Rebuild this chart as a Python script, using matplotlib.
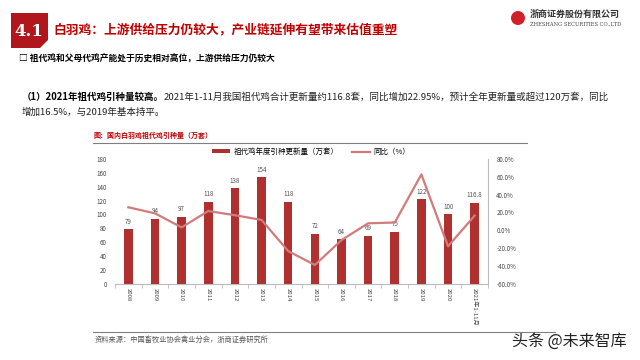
import matplotlib
matplotlib.use("Agg")
import matplotlib.pyplot as plt
from matplotlib.patches import Polygon, Ellipse
from matplotlib.lines import Line2D

plt.rcParams['font.family'] = ['Noto Sans CJK SC', 'DejaVu Sans']

years = ["2008", "2009", "2010", "2011", "2012", "2013", "2014", "2015",
         "2016", "2017", "2018", "2019", "2020", "2021年1-11月"]
volume = [79, 94, 97, 118, 138, 154, 118, 72, 64, 69, 75, 122, 100, 116.8]
volume_labels = ["79", "94", "97", "118", "138", "154", "118", "72", "64",
                 "69", "75", "122", "100", "116.8"]
yoy = [25.8, 19.0, 3.2, 21.6, 16.9, 11.6, -23.4, -39.0, -11.1, 7.8, 8.7,
       62.7, -18.0, 16.5]

bar_color = "#B0302F"
line_color = "#D27B7C"
red = "#C00000"

fig = plt.figure(figsize=(6.4, 3.6), dpi=100)
W, H = 640, 360

def fx(x):
    return x / W

def fy(y):
    return 1 - y / H

# header box "4.1"
box = Polygon([(fx(11), fy(13)), (fx(48), fy(13)), (fx(48), fy(40)),
               (fx(40), fy(48)), (fx(11), fy(48))], closed=True,
              transform=fig.transFigure, facecolor="#B0161C", edgecolor="none")
fig.patches.append(box)
fig.text(fx(29), fy(31), "4.1", color="white", fontsize=12, fontweight="bold",
         family="DejaVu Serif", ha="center", va="center")
fig.text(fx(53), fy(30), "白羽鸡：上游供给压力仍较大，产业链延伸有望带来估值重塑",
         color=red, fontsize=9.2, fontweight="bold", ha="left", va="center")

# logo
fig.patches.append(Ellipse((fx(518), fy(18)), 14 / W, 14 / H,
                           transform=fig.transFigure,
                           facecolor="#D0202A", edgecolor="none"))
fig.text(fx(530), fy(14), "浙商证券股份有限公司", fontsize=6.5, fontweight="bold",
         color="#333333", ha="left", va="center")
fig.text(fx(530), fy(24), "ZHESHANG SECURITIES CO.,LTD", fontsize=3.7,
         family="DejaVu Serif", color="#444444", ha="left", va="center")

fig.text(fx(19), fy(59), "□ 祖代鸡和父母代鸡产能处于历史相对高位，上游供给压力仍较大",
         fontsize=6.3, fontweight="bold", color="black", ha="left", va="center")

# paragraph: bold lead followed by regular text
lead = fig.text(fx(22), fy(97), "（1）2021年祖代鸡引种量较高。", fontsize=6.85,
                fontweight="bold", ha="left", va="center")
fig.canvas.draw()
bb = lead.get_window_extent(fig.canvas.get_renderer())
fig.text(bb.x1 / W, fy(97), "2021年1-11月我国祖代鸡合计更新量约116.8套，同比增加22.95%，"
         "预计全年更新量或超过120万套，同比", fontsize=6.85, ha="left", va="center",
         color="#222222")
fig.text(fx(22), fy(112), "增加16.5%，与2019年基本持平。", fontsize=6.85,
         ha="left", va="center", color="#222222")

# chart title and rules
fig.text(fx(93), fy(135.5), "图：国内白羽鸡祖代鸡引种量（万套）", fontsize=5,
         color=red, fontweight="bold", ha="left", va="center")
fig.lines.append(Line2D([fx(93), fx(527)], [fy(143), fy(143)],
                        transform=fig.transFigure, color="#808080", lw=0.8))
fig.lines.append(Line2D([fx(93), fx(555)], [fy(331.5), fy(331.5)],
                        transform=fig.transFigure, color="#808080", lw=0.8))
fig.text(fx(95), fy(340), "资料来源：中国畜牧业协会禽业分会，浙商证券研究所",
         fontsize=5.2, color="#555555", ha="left", va="center")
fig.text(fx(512), fy(341), "头条 @未来智库", fontsize=11.5, color="#222222",
         ha="left", va="center")

# main chart
ax = fig.add_axes([fx(115), fy(283.7), fx(488) - fx(115), (283.7 - 159) / H])
x = list(range(len(years)))
ax.bar(x, volume, width=0.32, color=bar_color, zorder=2,
       label="祖代鸡年度引种更新量（万套）")
for xi, v, t in zip(x, volume, volume_labels):
    ax.text(xi, v + 5, t, ha="center", va="bottom", fontsize=4.5, color="#555555")
ax.set_xlim(-0.5, 13.5)
ax.set_ylim(0, 180)
ax.set_yticks(range(0, 181, 20))
ax.set_xticks(x)
ax.set_xticklabels(years, rotation=270, fontsize=4.3, color="#444444")
ax.tick_params(axis="y", labelsize=4.5, colors="#444444", length=0, pad=6)
ax.tick_params(axis="x", length=0, pad=3)
ax.set_xticks([i + 0.5 for i in range(-1, 14)], minor=True)
ax.tick_params(axis="x", which="minor", length=3, color="#BBBBBB")
for s in ["top", "left", "right"]:
    ax.spines[s].set_visible(False)
ax.spines["bottom"].set_color("#BBBBBB")

ax2 = ax.twinx()
ax2.plot(x, yoy, color=line_color, lw=1.6, zorder=3, label="同比（%）")
ax2.set_ylim(-60, 80)
ax2.set_yticks(range(-60, 81, 20))
ax2.set_yticklabels([f"{v:.1f}%" for v in range(-60, 81, 20)])
ax2.tick_params(axis="y", labelsize=4.5, colors="#444444", length=0, pad=6)
for s in ["top", "left", "bottom"]:
    ax2.spines[s].set_visible(False)
ax2.spines["right"].set_color("#BBBBBB")

h1, l1 = ax.get_legend_handles_labels()
h2, l2 = ax2.get_legend_handles_labels()
fig.legend(h1 + h2, l1 + l2, loc="center", bbox_to_anchor=(fx(311), fy(152)),
           ncol=2, frameon=False, fontsize=5.4, handlelength=2.4, handleheight=0.5,
           columnspacing=1.8, handletextpad=0.5)

fig.savefig("out.png", dpi=100)
